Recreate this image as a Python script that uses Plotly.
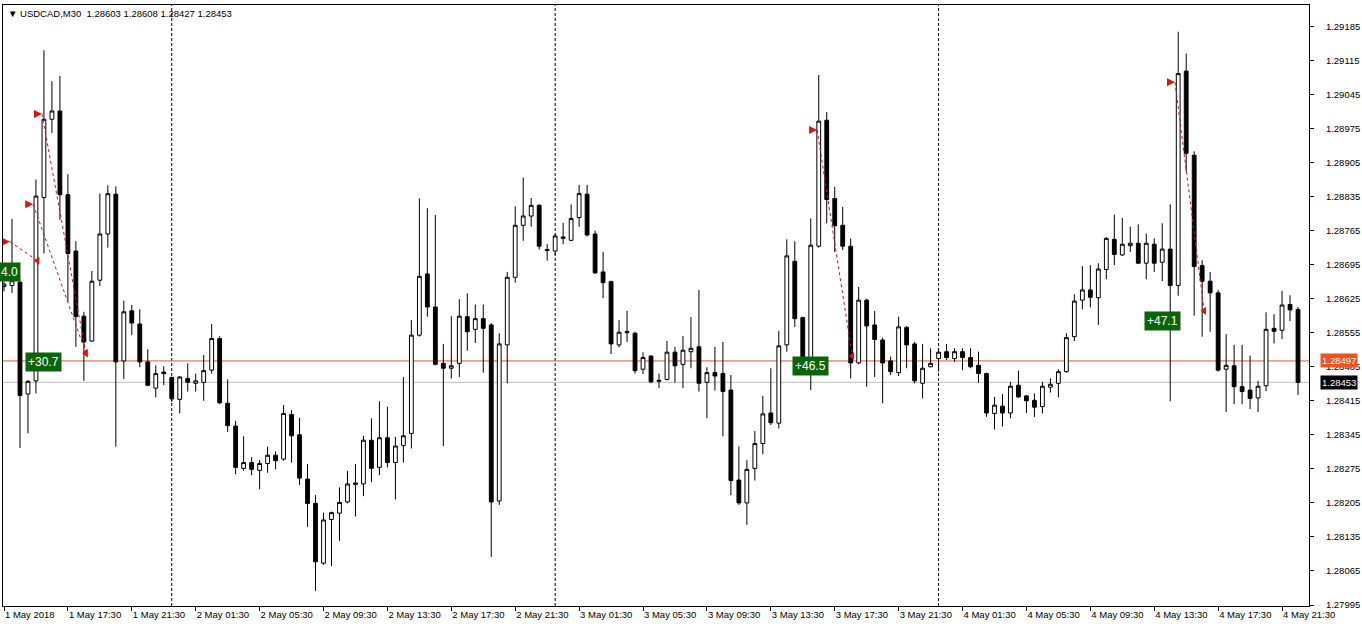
import plotly.graph_objects as go

# ---------------- data (USDCAD, M30) ----------------
opens = [1.28650, 1.28652, 1.28659, 1.28429, 1.28456, 1.28833, 1.28994, 1.29011, 1.28839, 1.28723,
         1.28589, 1.28538, 1.28663, 1.28758, 1.28840, 1.28497, 1.28600, 1.28573, 1.28495, 1.28441,
         1.28474, 1.28463, 1.28418, 1.28461, 1.28451, 1.28453, 1.28478, 1.28543, 1.28410, 1.28363,
         1.28276, 1.28288, 1.28272, 1.28286, 1.28303, 1.28295, 1.28387, 1.28345, 1.28254, 1.28204,
         1.28081, 1.28171, 1.28184, 1.28207, 1.28243, 1.28244, 1.28334, 1.28278, 1.28339, 1.28288,
         1.28323, 1.28348, 1.28550, 1.28676, 1.28608, 1.28492, 1.28482, 1.28492, 1.28588, 1.28562,
         1.28584, 1.28571, 1.28209, 1.28530, 1.28669, 1.28776, 1.28795, 1.28817, 1.28726, 1.28723,
         1.28749, 1.28745, 1.28792, 1.28840, 1.28758, 1.28680, 1.28660, 1.28530, 1.28555, 1.28554,
         1.28480, 1.28507, 1.28455, 1.28459, 1.28515, 1.28490, 1.28516, 1.28526, 1.28453, 1.28473,
         1.28471, 1.28437, 1.28252, 1.28205, 1.28276, 1.28327, 1.28390, 1.28369, 1.28530, 1.28702,
         1.28586, 1.28499, 1.28733, 1.28992, 1.28831, 1.28776, 1.28733, 1.28493, 1.28622, 1.28571,
         1.28540, 1.28497, 1.28473, 1.28566, 1.28532, 1.28451, 1.28485, 1.28502, 1.28516, 1.28502,
         1.28516, 1.28504, 1.28488, 1.28471, 1.28389, 1.28404, 1.28390, 1.28447, 1.28425, 1.28416,
         1.28403, 1.28443, 1.28451, 1.28475, 1.28547, 1.28622, 1.28643, 1.28627, 1.28685, 1.28747,
         1.28715, 1.28734, 1.28739, 1.28698, 1.28737, 1.28700, 1.28727, 1.28652, 1.29093, 1.28920,
         1.28693, 1.28661, 1.28637, 1.28480, 1.28487, 1.28444, 1.28437, 1.28421, 1.28446, 1.28564,
         1.28560, 1.28613, 1.28603]
highs = [1.28660, 1.28789, 1.28662, 1.28458, 1.28870, 1.29136, 1.29072, 1.29083, 1.28881, 1.28743,
         1.28598, 1.28682, 1.28841, 1.28858, 1.28856, 1.28621, 1.28612, 1.28603, 1.28521, 1.28488,
         1.28486, 1.28465, 1.28466, 1.28492, 1.28471, 1.28509, 1.28573, 1.28548, 1.28459, 1.28374,
         1.28342, 1.28299, 1.28293, 1.28321, 1.28311, 1.28406, 1.28396, 1.28380, 1.28285, 1.28221,
         1.28185, 1.28187, 1.28237, 1.28271, 1.28285, 1.28343, 1.28379, 1.28414, 1.28403, 1.28341,
         1.28464, 1.28581, 1.28831, 1.28811, 1.28797, 1.28532, 1.28589, 1.28624, 1.28636, 1.28613,
         1.28613, 1.28575, 1.28554, 1.28680, 1.28815, 1.28874, 1.28832, 1.28819, 1.28737, 1.28758,
         1.28781, 1.28819, 1.28859, 1.28859, 1.28765, 1.28721, 1.28662, 1.28581, 1.28600, 1.28557,
         1.28515, 1.28509, 1.28471, 1.28538, 1.28526, 1.28548, 1.28587, 1.28643, 1.28484, 1.28526,
         1.28536, 1.28468, 1.28321, 1.28293, 1.28353, 1.28425, 1.28482, 1.28559, 1.28747, 1.28743,
         1.28588, 1.28790, 1.29085, 1.29009, 1.28855, 1.28814, 1.28749, 1.28649, 1.28625, 1.28600,
         1.28545, 1.28506, 1.28588, 1.28569, 1.28536, 1.28532, 1.28523, 1.28519, 1.28532, 1.28523,
         1.28523, 1.28523, 1.28516, 1.28473, 1.28423, 1.28429, 1.28454, 1.28477, 1.28427, 1.28430,
         1.28454, 1.28461, 1.28480, 1.28554, 1.28634, 1.28692, 1.28694, 1.28698, 1.28752, 1.28798,
         1.28791, 1.28773, 1.28778, 1.28759, 1.28749, 1.28780, 1.28819, 1.29174, 1.29129, 1.28928,
         1.28704, 1.28680, 1.28643, 1.28552, 1.28530, 1.28530, 1.28508, 1.28456, 1.28597, 1.28593,
         1.28641, 1.28632, 1.28608]
lows = [1.28640, 1.28637, 1.28318, 1.28348, 1.28430, 1.28718, 1.28966, 1.28787, 1.28619, 1.28526,
        1.28456, 1.28536, 1.28651, 1.28730, 1.28321, 1.28460, 1.28550, 1.28484, 1.28445, 1.28422,
        1.28447, 1.28413, 1.28389, 1.28434, 1.28434, 1.28415, 1.28471, 1.28408, 1.28351, 1.28264,
        1.28271, 1.28262, 1.28233, 1.28267, 1.28274, 1.28292, 1.28288, 1.28242, 1.28156, 1.28024,
        1.28078, 1.28075, 1.28127, 1.28204, 1.28177, 1.28219, 1.28248, 1.28262, 1.28278, 1.28212,
        1.28288, 1.28317, 1.28547, 1.28588, 1.28488, 1.28322, 1.28461, 1.28464, 1.28518, 1.28534,
        1.28473, 1.28094, 1.28201, 1.28451, 1.28658, 1.28744, 1.28773, 1.28726, 1.28703, 1.28715,
        1.28737, 1.28744, 1.28773, 1.28753, 1.28676, 1.28626, 1.28511, 1.28525, 1.28536, 1.28471,
        1.28470, 1.28451, 1.28441, 1.28457, 1.28452, 1.28441, 1.28482, 1.28434, 1.28379, 1.28436,
        1.28342, 1.28221, 1.28201, 1.28160, 1.28251, 1.28305, 1.28365, 1.28358, 1.28516, 1.28567,
        1.28495, 1.28437, 1.28730, 1.28780, 1.28721, 1.28725, 1.28461, 1.28490, 1.28444, 1.28464,
        1.28410, 1.28468, 1.28466, 1.28482, 1.28451, 1.28420, 1.28484, 1.28475, 1.28499, 1.28495,
        1.28478, 1.28482, 1.28452, 1.28382, 1.28356, 1.28362, 1.28379, 1.28421, 1.28390, 1.28382,
        1.28389, 1.28432, 1.28422, 1.28473, 1.28538, 1.28603, 1.28607, 1.28571, 1.28665, 1.28694,
        1.28713, 1.28721, 1.28696, 1.28665, 1.28680, 1.28661, 1.28414, 1.28631, 1.28886, 1.28590,
        1.28547, 1.28557, 1.28475, 1.28392, 1.28408, 1.28408, 1.28398, 1.28392, 1.28435, 1.28533,
        1.28542, 1.28579, 1.28427]
closes = [1.28655, 1.28662, 1.28426, 1.28455, 1.28836, 1.28994, 1.29011, 1.28839, 1.28718, 1.28588,
          1.28536, 1.28661, 1.28758, 1.28841, 1.28495, 1.28598, 1.28575, 1.28495, 1.28447, 1.28471,
          1.28471, 1.28419, 1.28464, 1.28453, 1.28456, 1.28477, 1.28543, 1.28411, 1.28364, 1.28278,
          1.28288, 1.28274, 1.28286, 1.28303, 1.28292, 1.28389, 1.28343, 1.28256, 1.28204, 1.28084,
          1.28170, 1.28185, 1.28206, 1.28244, 1.28246, 1.28334, 1.28276, 1.28339, 1.28288, 1.28322,
          1.28343, 1.28550, 1.28671, 1.28608, 1.28490, 1.28482, 1.28487, 1.28589, 1.28557, 1.28584,
          1.28564, 1.28207, 1.28532, 1.28669, 1.28776, 1.28795, 1.28817, 1.28733, 1.28724, 1.28754,
          1.28752, 1.28790, 1.28841, 1.28756, 1.28678, 1.28658, 1.28532, 1.28556, 1.28557, 1.28477,
          1.28504, 1.28454, 1.28457, 1.28515, 1.28487, 1.28519, 1.28523, 1.28451, 1.28473, 1.28466,
          1.28434, 1.28251, 1.28205, 1.28274, 1.28327, 1.28388, 1.28370, 1.28528, 1.28713, 1.28584,
          1.28502, 1.28735, 1.28990, 1.28829, 1.28775, 1.28733, 1.28493, 1.28622, 1.28569, 1.28541,
          1.28493, 1.28475, 1.28567, 1.28530, 1.28456, 1.28482, 1.28492, 1.28515, 1.28504, 1.28516,
          1.28504, 1.28485, 1.28471, 1.28390, 1.28406, 1.28390, 1.28445, 1.28423, 1.28415, 1.28402,
          1.28445, 1.28449, 1.28475, 1.28545, 1.28620, 1.28643, 1.28628, 1.28686, 1.28749, 1.28716,
          1.28737, 1.28739, 1.28698, 1.28739, 1.28698, 1.28727, 1.28652, 1.29088, 1.28924, 1.28691,
          1.28661, 1.28637, 1.28478, 1.28488, 1.28444, 1.28434, 1.28420, 1.28445, 1.28562, 1.28558,
          1.28612, 1.28602, 1.28453]

x_tick_bars = [0, 8, 16, 24, 32, 40, 48, 56, 64, 72, 80, 88, 96, 104, 112, 120, 128, 136, 144, 152, 160]
x_tick_labels = ["1 May 2018", "1 May 17:30", "1 May 21:30", "2 May 01:30", "2 May 05:30", "2 May 09:30",
                 "2 May 13:30", "2 May 17:30", "2 May 21:30", "3 May 01:30", "3 May 05:30", "3 May 09:30",
                 "3 May 13:30", "3 May 17:30", "3 May 21:30", "4 May 01:30", "4 May 05:30", "4 May 09:30",
                 "4 May 13:30", "4 May 17:30", "4 May 21:30"]
y_tick_prices = [1.27995, 1.28065, 1.28135, 1.28205, 1.28275, 1.28345, 1.28415, 1.28485, 1.28555,
                 1.28625, 1.28695, 1.28765, 1.28835, 1.28905, 1.28975, 1.29045, 1.29115, 1.29185]
y_tick_labels = ["%.5f" % p for p in y_tick_prices]

day_separator_bars = [21, 69, 117]

ask_price = 1.28497
bid_price = 1.28453

trade_open_bar = [0.75, 3.66, 4.75, 101.8, 146.6]
trade_open_price = [1.28742, 1.28819, 1.29005, 1.28972, 1.29070]
trade_close_bar = [4.2, 10.25, 10.25, 106.2, 150.25]
trade_close_price = [1.28703, 1.28513, 1.28513, 1.28507, 1.28600]

profit_text = ["4.0", "+30.7", "+46.5", "+47.1"]
profit_bar = [0.75, 5.0, 100.94, 145.0]
profit_price = [1.28680, 1.28494, 1.28486, 1.28579]

title_text = "\u25BC USDCAD,M30\u00a0\u00a01.28603 1.28608 1.28427 1.28453"

# ---------------- figure ----------------
FONT = "Liberation Sans, Arial, sans-serif"
bars = list(range(len(opens)))

fig = go.Figure()
fig.add_trace(go.Candlestick(
    x=bars, open=opens, high=highs, low=lows, close=closes,
    increasing=dict(line=dict(color="black", width=1), fillcolor="white"),
    decreasing=dict(line=dict(color="black", width=1), fillcolor="black"),
    whiskerwidth=0, showlegend=False, hoverinfo="skip"))

for xo, po, xc, pc in zip(trade_open_bar, trade_open_price, trade_close_bar, trade_close_price):
    fig.add_trace(go.Scatter(x=[xo, xc], y=[po, pc], mode="lines",
                             line=dict(color="#C81414", width=1, dash="dot"),
                             showlegend=False, hoverinfo="skip"))
fig.add_trace(go.Scatter(x=trade_open_bar, y=trade_open_price, mode="markers",
                         marker=dict(symbol="arrow-right", size=8, color="#E01010",
                                     line=dict(width=0)),
                         showlegend=False, hoverinfo="skip"))
fig.add_trace(go.Scatter(x=trade_close_bar, y=trade_close_price, mode="markers",
                         marker=dict(symbol="triangle-left", size=7, color="#E01010",
                                     line=dict(width=0)),
                         showlegend=False, hoverinfo="skip"))

shapes = []
for b in day_separator_bars:
    shapes.append(dict(type="line", xref="x", yref="paper", x0=b, x1=b, y0=0, y1=1,
                       line=dict(color="black", width=1, dash="3px,2px"), layer="below"))
shapes.append(dict(type="line", xref="paper", yref="y", x0=0, x1=1, y0=bid_price, y1=bid_price,
                   line=dict(color="#C0C0C0", width=1), layer="below"))
shapes.append(dict(type="line", xref="paper", yref="y", x0=0, x1=1, y0=ask_price, y1=ask_price,
                   line=dict(color="#F0502A", width=1), layer="below"))

annotations = []
for t, xb, pr in zip(profit_text, profit_bar, profit_price):
    annotations.append(dict(x=xb, y=pr, xref="x", yref="y", text=t, showarrow=False,
                            font=dict(family=FONT, size=12, color="white"),
                            bgcolor="#0A640A", borderpad=2))
annotations.append(dict(x=1, y=ask_price, xref="paper", yref="y", xanchor="left", text="%.5f" % ask_price,
                        showarrow=False, xshift=11, font=dict(family=FONT, size=9.5, color="white"),
                        bgcolor="#F4511E", borderpad=1))
annotations.append(dict(x=1, y=bid_price, xref="paper", yref="y", xanchor="left", text="%.5f" % bid_price,
                        showarrow=False, xshift=11, font=dict(family=FONT, size=9.5, color="white"),
                        bgcolor="black", borderpad=1))
annotations.append(dict(x=0, y=1, xref="paper", yref="paper", xanchor="left", yanchor="top",
                        text=title_text, showarrow=False, xshift=3, yshift=-1,
                        font=dict(family=FONT, size=9.5, color="black")))

fig.update_layout(
    width=1362, height=629, autosize=False,
    margin=dict(l=2, r=52, t=5, b=23),
    paper_bgcolor="white", plot_bgcolor="white",
    boxgap=0.32,
    shapes=shapes, annotations=annotations,
    xaxis=dict(range=[-0.125, 163.375], rangeslider=dict(visible=False),
               tickvals=x_tick_bars, ticktext=x_tick_labels, ticks="outside", ticklen=4,
               tickcolor="black", ticklabelposition="outside right",
               tickfont=dict(family=FONT, size=9.5, color="black"),
               showgrid=False, zeroline=False, showline=True, linecolor="black",
               linewidth=1, mirror=True),
    yaxis=dict(side="right", range=[1.27993, 1.29229], tickvals=y_tick_prices, ticktext=y_tick_labels,
               ticks="outside", ticklen=4, tickcolor="black", ticklabelstandoff=10,
               tickfont=dict(family=FONT, size=9.5, color="black"),
               showgrid=False, zeroline=False, showline=True, linecolor="black",
               linewidth=1, mirror=True),
)

fig.write_html("out.html", config={"displayModeBar": False},
               post_script="document.body.style.margin='0';document.body.style.overflow='hidden';")
